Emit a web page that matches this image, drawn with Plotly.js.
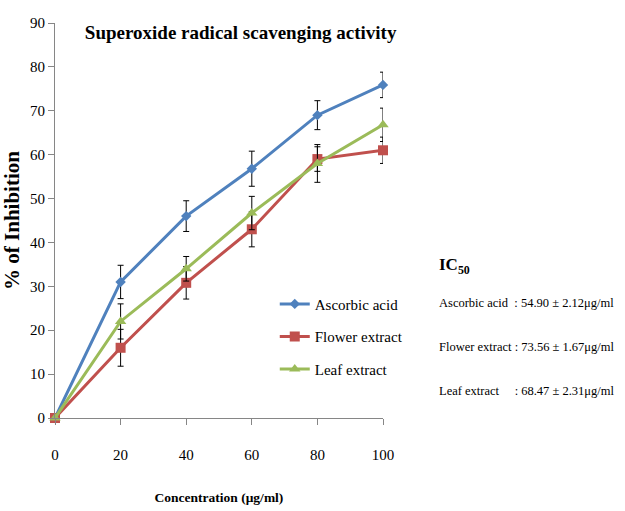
<!DOCTYPE html>
<html>
<head>
<meta charset="utf-8">
<script src="https://cdn.plot.ly/plotly-3.0.1.min.js"></script>
<style>
html,body{margin:0;padding:0;background:#fff;}
#chart{width:625px;height:511px;}
#chart .legendtext{font-family:"Liberation Serif", serif !important;}
</style>
</head>
<body>
<div id="chart"></div>
<script>
const concentration = [0, 20, 40, 60, 80, 100];
const ascorbicAcid = [0, 31, 46, 56.8, 69, 75.9];
const ascorbicErr = [0, 3.8, 3.5, 4, 3.3, 2.9];
const flowerExtract = [0, 16, 30.8, 43, 59, 61];
const flowerErr = [0, 4.2, 3.7, 4, 2.8, 3];
const leafExtract = [0, 22, 34, 46.7, 58, 66.8];
const leafErr = [0, 4, 2.8, 3.8, 4.3, 3.8];
const seriesNames = ['Ascorbic acid', 'Flower extract', 'Leaf extract'];
const ic50Lines = [
  'Ascorbic acid  : 54.90 ± 2.12μg/ml',
  'Flower extract : 73.56 ± 1.67μg/ml',
  'Leaf extract     : 68.47 ± 2.31μg/ml'
];
const xTicks = [0, 20, 40, 60, 80, 100];
const yTicks = [0, 10, 20, 30, 40, 50, 60, 70, 80, 90];

const serif = 'Liberation Serif';
const colors = ['#4F81BD', '#C0504D', '#9BBB59'];
const symbols = ['diamond', 'square', 'triangle-up'];
const sizes = [8, 10, 10];
const ys = [ascorbicAcid, flowerExtract, leafExtract];
const errs = [ascorbicErr, flowerErr, leafErr];

const traces = ys.map((y, i) => ({
  x: concentration, y: y, name: seriesNames[i],
  type: 'scatter', mode: 'lines+markers',
  legendgroup: 'g' + i,
  line: {color: colors[i], width: 3},
  marker: {color: colors[i], symbol: symbols[i], size: sizes[i]},
  error_y: {type: 'data', array: errs[i], visible: true, color: '#000', thickness: 1, width: 3},
  cliponaxis: false
}));

const annotations = [{
  text: '<b>IC<sub>50</sub></b>', xref: 'paper', yref: 'paper', x: 1.165, y: 0.385,
  xanchor: 'left', yanchor: 'middle', showarrow: false, font: {family: serif, size: 17, color: '#000'}
}];
ic50Lines.forEach((t, i) => annotations.push({
  text: t, xref: 'paper', yref: 'paper', x: 1.165, y: 0.29 - i * 0.111,
  xanchor: 'left', yanchor: 'middle', showarrow: false, font: {family: serif, size: 12.5, color: '#000'}
}));

const layout = {
  width: 625, height: 511,
  margin: {l: 55, r: 242, t: 23, b: 93},
  paper_bgcolor: '#fff', plot_bgcolor: '#fff',
  font: {family: serif, color: '#000'},
  title: {text: '<b>Superoxide radical scavenging activity</b>', font: {family: serif, size: 19, color: '#000'},
          x: 0.385, xanchor: 'center', y: 0.937, yanchor: 'middle'},
  xaxis: {range: [0, 100], tickvals: xTicks, ticks: 'outside', ticklen: 6, tickcolor: '#868686',
          showline: true, linecolor: '#868686', linewidth: 1, showgrid: false, zeroline: false,
          tickfont: {family: serif, size: 15, color: '#000'}, ticklabelstandoff: 17,
          title: {text: '<b>Concentration (μg/ml)</b>', font: {family: serif, size: 13.5, color: '#000'}, standoff: 30}},
  yaxis: {range: [0, 90], tickvals: yTicks, ticks: 'outside', ticklen: 6, tickcolor: '#868686',
          showline: true, linecolor: '#868686', linewidth: 1, showgrid: false, zeroline: false,
          tickfont: {family: serif, size: 15, color: '#000'},
          title: {text: '<b>% of Inhibition</b>', font: {family: serif, size: 21, color: '#000'}, standoff: 8}},
  showlegend: true,
  legend: {x: 0.67, y: 0.33, xanchor: 'left', yanchor: 'top', bgcolor: 'rgba(0,0,0,0)',
           font: {family: serif, size: 15, color: '#000'}, tracegroupgap: 10, itemwidth: 30},
  annotations: annotations
};

Plotly.newPlot('chart', traces, layout, {displayModeBar: false, staticPlot: true});
</script>
</body>
</html>
